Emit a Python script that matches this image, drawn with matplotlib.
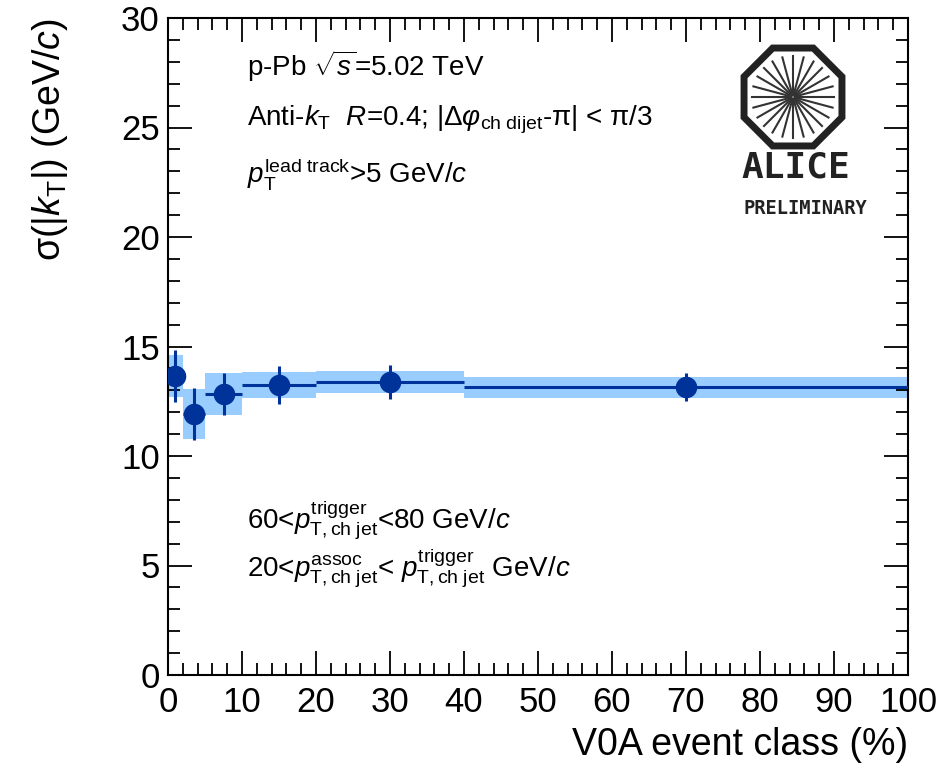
import numpy as np
import matplotlib
matplotlib.use('Agg')
import matplotlib.pyplot as plt
from matplotlib.patches import Rectangle, RegularPolygon
from matplotlib.ticker import MultipleLocator

plt.rcParams['font.family'] = ['Liberation Sans', 'DejaVu Sans']
plt.rcParams['mathtext.fontset'] = 'custom'
plt.rcParams['mathtext.rm'] = 'Liberation Sans'
plt.rcParams['mathtext.it'] = 'Liberation Sans:italic'
plt.rcParams['mathtext.bf'] = 'Liberation Sans:bold'

# V0A event class bins (%)
bin_lo = [0, 2, 5, 10, 20, 40]
bin_hi = [2, 5, 10, 20, 40, 100]
x_center = [1, 3.5, 7.5, 15, 30, 70]
# sigma(|kT|) values, stat and syst uncertainties
sigma_kt = [13.65, 11.92, 12.83, 13.24, 13.38, 13.15]
stat_err = [1.20, 1.19, 0.98, 0.85, 0.78, 0.64]
syst_err = [0.97, 1.15, 0.96, 0.60, 0.50, 0.48]

W, H = 944, 773
fig = plt.figure(figsize=(W / 100, H / 100), dpi=100)
ax = fig.add_axes([168 / W, 1 - 675 / H, (908 - 168) / W, (675 - 18) / H])

dark = '#00339a'
light = '#99ccff'

# systematic boxes
for lo, hi, y, s in zip(bin_lo, bin_hi, sigma_kt, syst_err):
    ax.add_patch(Rectangle((lo, y - s), hi - lo, 2 * s, facecolor=light,
                           edgecolor='none', zorder=1))

xerr = [np.subtract(x_center, bin_lo), np.subtract(bin_hi, x_center)]
ax.errorbar(x_center, sigma_kt, yerr=stat_err, xerr=xerr, fmt='o', color=dark,
            ms=14.5, elinewidth=2.2, capsize=0, zorder=3)

ax.set_xlim(0, 100)
ax.set_ylim(0, 30)
ax.xaxis.set_major_locator(MultipleLocator(10))
ax.xaxis.set_minor_locator(MultipleLocator(2))
ax.yaxis.set_major_locator(MultipleLocator(5))
ax.yaxis.set_minor_locator(MultipleLocator(1))
ax.tick_params(which='both', direction='in', top=True, right=True, width=1.3)
ax.tick_params(which='major', length=17, labelsize=25)
ax.tick_params(which='minor', length=8.5)
ax.tick_params(axis='x', pad=8)
ax.tick_params(axis='y', pad=6)
for sp in ax.spines.values():
    sp.set_linewidth(1.5)

fig.text(908 / W, 1 - 745 / H, 'V0A event class (%)', ha='right', va='center',
         fontsize=27)
fig.text(50 / W, 1 - 18 / H, r'$\mathrm{\sigma(|}k_{\mathrm{T}}\mathrm{|)\ (GeV/}c\mathrm{)}$',
         rotation=90, ha='center', va='top', fontsize=27)

tkw = dict(transform=ax.transAxes, fontsize=20, ha='left', va='baseline')
ax.text(0.107, 1 - (76 - 18) / 657, r'p-Pb $\sqrt{s}$=5.02 TeV', **tkw)
ax.text(0.107, 1 - (126 - 18) / 657,
        r'Anti-$k_{\mathrm{T}}$  $R$=0.4; |$\Delta\varphi_{\mathrm{ch\ dijet}}$-π| < π/3', **tkw)
ax.text(0.107, 1 - (182 - 18) / 657,
        r'$p_{\mathrm{T}}^{\mathrm{lead\ track}}$>5 GeV/$c$', **tkw)
ax.text(0.107, 1 - (528 - 18) / 657,
        r'60<$p_{\mathrm{T,ch\ jet}}^{\mathrm{trigger}}$<80 GeV/$c$', **tkw)
ax.text(0.107, 1 - (577 - 18) / 657,
        r'20<$p_{\mathrm{T,ch\ jet}}^{\mathrm{assoc}}$< $p_{\mathrm{T,ch\ jet}}^{\mathrm{trigger}}$ GeV/$c$', **tkw)

# ALICE preliminary logo in pixel coordinates
lax = fig.add_axes([0, 0, 1, 1], facecolor='none')
lax.set_xlim(0, W)
lax.set_ylim(H, 0)
lax.axis('off')
cx, cy, r = 793, 97, 53
lax.add_patch(RegularPolygon((cx, cy), 8, radius=r, orientation=np.pi / 8,
                             facecolor='white', edgecolor='#222222', lw=5))
for a in np.arange(0, 360, 15):
    t = np.deg2rad(a)
    lax.plot([cx + 2 * np.cos(t), cx + 41 * np.cos(t)],
             [cy + 2 * np.sin(t), cy + 41 * np.sin(t)], color='#333333', lw=1.5)
lax.text(796, 167, 'ALICE', ha='center', va='center', fontsize=26,
         family='DejaVu Sans Mono', weight='bold', color='#222222')
lax.text(805, 208, 'PRELIMINARY', ha='center', va='center', fontsize=13.5,
         family='DejaVu Sans Mono', weight='bold', color='#222222')

fig.savefig('out.png', dpi=100)
